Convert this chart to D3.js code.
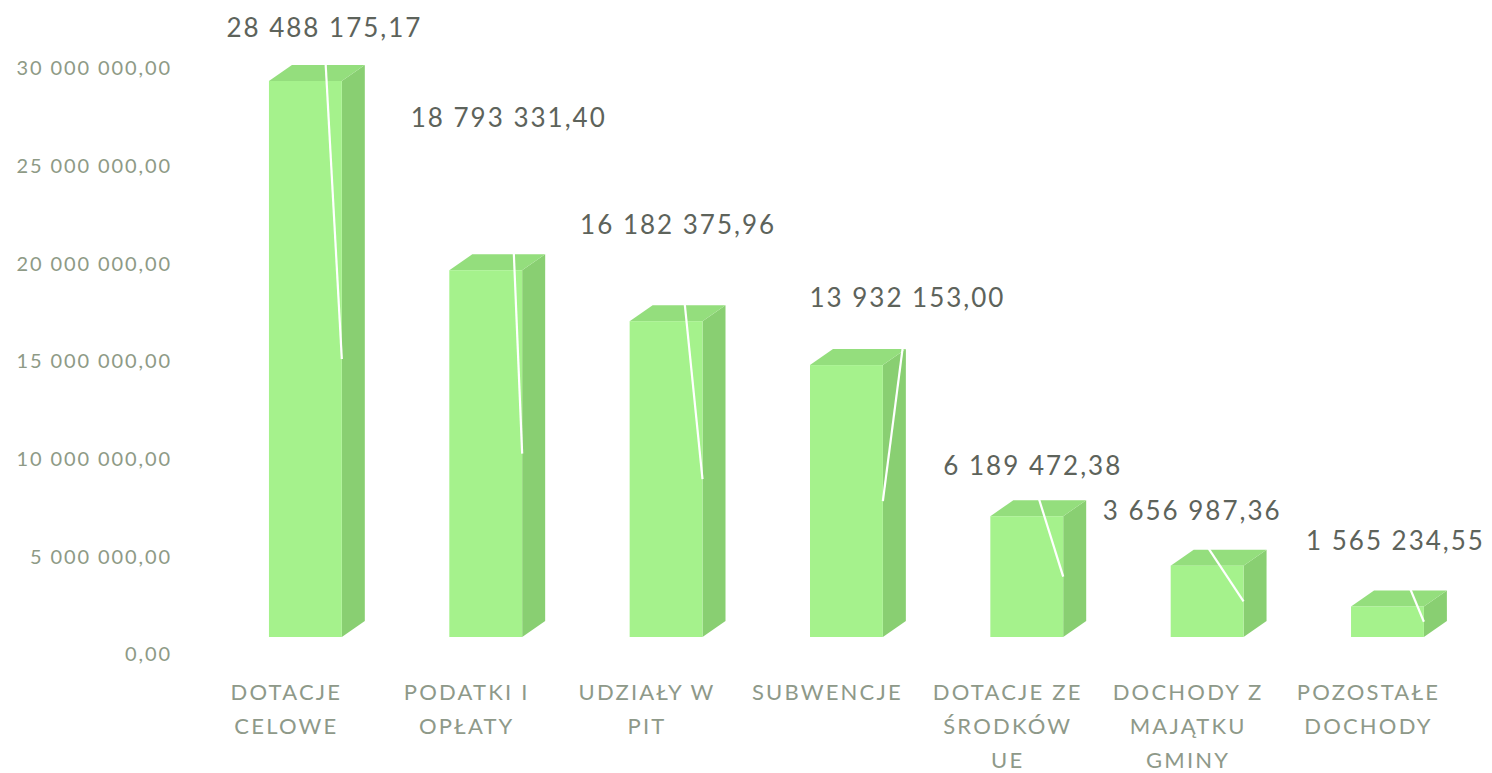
<!DOCTYPE html>
<html>
<head>
<meta charset="utf-8">
<script src="https://cdn.jsdelivr.net/npm/d3@7"></script>
<style>
  html, body { margin: 0; padding: 0; background: #ffffff; }
  svg { display: block; }
</style>
</head>
<body>
<svg id="chart" width="1492" height="773"></svg>
<script>
// ---- data ----
const categories = [
  "DOTACJE CELOWE",
  "PODATKI I OPŁATY",
  "UDZIAŁY W PIT",
  "SUBWENCJE",
  "DOTACJE ZE ŚRODKÓW UE",
  "DOCHODY Z MAJĄTKU GMINY",
  "POZOSTAŁE DOCHODY"
];
const values = [28488175.17, 18793331.40, 16182375.96, 13932153.00, 6189472.38, 3656987.36, 1565234.55];
const tickValues = [0, 5000000, 10000000, 15000000, 20000000, 25000000, 30000000];

// ---- layout (manually placed data labels, px offsets from bar back-top centre) ----
const labelShift = [[-4, -37], [0, -136], [-11, -80], [38, -51], [-17, -34], [-38, -39], [-15, -50]];

const svg = d3.select("#chart");

const pl = d3.formatLocale({ decimal: ",", thousands: "\u00a0", grouping: [3], currency: ["", " zł"] });
const fmt = pl.format(",.2f");

const depthX = 23, depthY = -16;

const x = d3.scaleBand()
  .domain(categories)
  .range([214.85, 1478])
  .paddingInner(0.596)
  .paddingOuter(0.3);

// axis scale (labels) and front-face scale (perspective floor sits higher)
const yAxis = d3.scaleLinear().domain([0, 30000000]).range([654, 68]);
const yFront = d3.scaleLinear().domain([0, 30000000]).range([637, 51.5]);

// ---- y axis labels ----
const axis = d3.axisLeft(yAxis).tickValues(tickValues).tickFormat(fmt).tickSize(0).tickPadding(0);
const gAxis = svg.append("g").attr("transform", "translate(172,0)").call(axis);
gAxis.select(".domain").remove();
gAxis.selectAll("text")
  .attr("font-family", "Lato, 'Open Sans', sans-serif")
  .attr("font-size", 20)
  .attr("letter-spacing", "1.9px")
  .attr("fill", "#8e9a86")
  .attr("dy", "0.34em");

// ---- bars ----
const cFront = "#a5f28c", cTop = "#94de7d", cSide = "#89cf72";
const bars = svg.append("g").selectAll("g.bar")
  .data(categories.map((c, i) => ({ c, v: values[i], i })))
  .join("g").attr("class", "bar");

bars.each(function (d) {
  const g = d3.select(this);
  const x0 = x(d.c), x1 = x0 + x.bandwidth();
  const yt = yFront(d.v), yb = yFront(0);
  g.append("path")
    .attr("d", d3.line()([[x1, yt], [x1 + depthX, yt + depthY], [x1 + depthX, yb + depthY], [x1, yb]]) + "Z")
    .attr("fill", cSide);
  g.append("path")
    .attr("d", d3.line()([[x0, yt], [x0 + depthX, yt + depthY], [x1 + depthX, yt + depthY], [x1, yt]]) + "Z")
    .attr("fill", cTop);
  g.append("rect")
    .attr("x", x0).attr("y", yt)
    .attr("width", x.bandwidth()).attr("height", yb - yt)
    .attr("fill", cFront);
});

// ---- data labels + leader lines ----
const labelPos = categories.map((c, i) => {
  const cx = x(c) + depthX + x.bandwidth() / 2 + labelShift[i][0];
  const cy = yFront(values[i]) + depthY + labelShift[i][1];
  return [cx, cy];
});

svg.append("g").selectAll("line")
  .data(categories)
  .join("line")
  .attr("x1", (c, i) => labelPos[i][0])
  .attr("y1", (c, i) => labelPos[i][1] + 13)
  .attr("x2", c => x(c) + x.bandwidth())
  .attr("y2", (c, i) => yFront(values[i] / 2))
  .attr("stroke", "#ffffff")
  .attr("stroke-width", 2.2);

svg.append("g").selectAll("text")
  .data(categories)
  .join("text")
  .attr("x", (c, i) => labelPos[i][0])
  .attr("y", (c, i) => labelPos[i][1])
  .attr("dy", "0.35em")
  .attr("text-anchor", "middle")
  .attr("font-family", "Lato, 'Open Sans', sans-serif")
  .attr("font-size", 26)
  .attr("letter-spacing", "2px")
  .attr("fill", "#5d635b")
  .text((c, i) => fmt(values[i]));

// ---- category labels (wrapped) ----
const catG = svg.append("g");
const maxW = 160;
categories.forEach((c, i) => {
  const cx = x(c) + x.bandwidth() / 2 - 19;
  const t = catG.append("text")
    .attr("x", cx)
    .attr("y", 692)
    .attr("text-anchor", "middle")
    .attr("font-family", "Lato, 'Open Sans', sans-serif")
    .attr("font-size", 22)
    .attr("letter-spacing", "2.2px")
    .attr("fill", "#8e9989");
  const words = c.split(" ");
  let lines = [], cur = [];
  const probe = t.append("tspan");
  words.forEach(w => {
    const test = cur.concat([w]).join(" ");
    probe.text(test);
    if (probe.node().getComputedTextLength() > maxW && cur.length) {
      lines.push(cur.join(" "));
      cur = [w];
    } else {
      cur.push(w);
    }
  });
  if (cur.length) lines.push(cur.join(" "));
  probe.remove();
  lines.forEach((ln, k) => {
    t.append("tspan")
      .attr("x", cx)
      .attr("dy", k === 0 ? "0.35em" : "34px")
      .text(ln);
  });
});
</script>
</body>
</html>
